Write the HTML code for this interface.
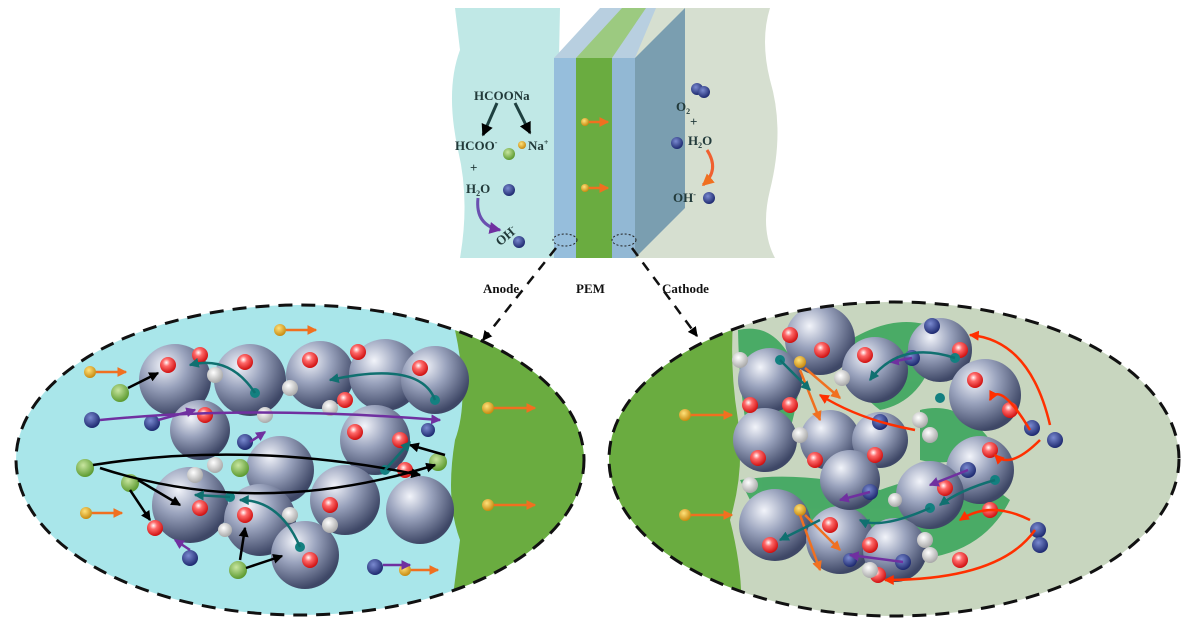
<!DOCTYPE html>
<html><head><meta charset="utf-8"><style>body{margin:0;background:#fff}svg{display:block}</style></head><body>
<svg width="1188" height="618" viewBox="0 0 1188 618" xmlns="http://www.w3.org/2000/svg" font-family="Liberation Serif, serif" font-weight="bold">
<defs>
<radialGradient id="sp" cx="35%" cy="30%" r="70%"><stop offset="0" stop-color="#f2f4fa"/><stop offset=".45" stop-color="#9aa3bd"/><stop offset="1" stop-color="#3e4766"/></radialGradient>
<radialGradient id="rd" cx="40%" cy="35%" r="65%"><stop offset="0" stop-color="#fff"/><stop offset=".35" stop-color="#ff6a6a"/><stop offset="1" stop-color="#d01010"/></radialGradient>
<radialGradient id="gy" cx="40%" cy="35%" r="65%"><stop offset="0" stop-color="#fff"/><stop offset="1" stop-color="#a9a9a9"/></radialGradient>
<radialGradient id="gn" cx="40%" cy="35%" r="65%"><stop offset="0" stop-color="#c8e6a0"/><stop offset="1" stop-color="#5c9a30"/></radialGradient>
<radialGradient id="yl" cx="40%" cy="35%" r="65%"><stop offset="0" stop-color="#ffe27a"/><stop offset="1" stop-color="#c88a10"/></radialGradient>
<radialGradient id="bl" cx="40%" cy="35%" r="65%"><stop offset="0" stop-color="#7a8ad0"/><stop offset="1" stop-color="#1e2a70"/></radialGradient>
<marker id="ao" markerWidth="4" markerHeight="4" refX="3.5" refY="2" orient="auto"><path d="M0,0L4,2L0,4z" fill="#f07020"/></marker>
<marker id="ak" markerWidth="4" markerHeight="4" refX="3.5" refY="2" orient="auto"><path d="M0,0L4,2L0,4z" fill="#000"/></marker>
<marker id="ap" markerWidth="4" markerHeight="4" refX="3.5" refY="2" orient="auto"><path d="M0,0L4,2L0,4z" fill="#7030a0"/></marker>
<marker id="at" markerWidth="4" markerHeight="4" refX="3.5" refY="2" orient="auto"><path d="M0,0L4,2L0,4z" fill="#107070"/></marker>
<marker id="ar" markerWidth="4" markerHeight="4" refX="3.5" refY="2" orient="auto"><path d="M0,0L4,2L0,4z" fill="#ff3000"/></marker>
<clipPath id="cl"><ellipse cx="300" cy="460" rx="284" ry="155"/></clipPath>
<clipPath id="cr"><ellipse cx="894" cy="459" rx="285" ry="157"/></clipPath>
</defs>
<path d="M455,8 L560,8 L555,258 L460,258 Q470,200 458,150 Q445,90 460,50 Z" fill="#c0e8e6"/>
<path d="M635,8 L770,8 Q760,40 770,80 Q785,130 770,190 Q760,230 775,258 L635,258 Z" fill="#d6dfd0"/>
<path d="M554,58 L600,8 L656,8 L635,58 Z" fill="#b8cfe0"/>
<path d="M576,58 L622,8 L646,8 L612,58 Z" fill="#9cca80"/>
<path d="M635,58 L685,8 L685,208 L635,258 Z" fill="#7a9eb0"/>
<rect x="554" y="58" width="22" height="200" fill="#96bedc"/>
<rect x="576" y="58" width="36" height="200" fill="#6aac40"/>
<rect x="612" y="58" width="23" height="200" fill="#92b8d4"/>
<ellipse cx="565" cy="240" rx="12" ry="6" fill="none" stroke="#222" stroke-dasharray="2,2"/>
<ellipse cx="624" cy="240" rx="12" ry="6" fill="none" stroke="#222" stroke-dasharray="2,2"/>
<g fill="#223a3a" font-size="13">
<text x="474" y="100">HCOONa</text><text x="455" y="150">HCOO<tspan font-size="8" dy="-5">-</tspan></text>
<text x="528" y="150">Na<tspan font-size="8" dy="-5">+</tspan></text>
<text x="470" y="172">+</text><text x="466" y="193">H<tspan font-size="8" dy="3">2</tspan><tspan dy="-3">O</tspan></text>
<text x="496" y="245" transform="rotate(-40 500 240)">OH<tspan font-size="8" dy="-5">-</tspan></text>
<text x="676" y="111">O<tspan font-size="8" dy="3">2</tspan></text><text x="690" y="126">+</text>
<text x="688" y="145">H<tspan font-size="8" dy="3">2</tspan><tspan dy="-3">O</tspan></text>
<text x="673" y="202">OH<tspan font-size="8" dy="-5">-</tspan></text>
</g>
<path d="M497,103 L483,135" stroke="#1e4040" stroke-width="3" marker-end="url(#ak)"/>
<path d="M515,103 L530,133" stroke="#1e4040" stroke-width="3" marker-end="url(#ak)"/>
<path d="M478,198 Q475,225 500,230" stroke="#6a50b0" stroke-width="3" fill="none" marker-end="url(#ap)"/>
<path d="M707,150 Q720,170 703,185" stroke="#f06030" stroke-width="3" fill="none" marker-end="url(#ao)"/>
<circle cx="509" cy="154" r="6" fill="url(#gn)"/><circle cx="522" cy="145" r="4" fill="url(#yl)"/>
<circle cx="509" cy="190" r="6" fill="url(#bl)"/><circle cx="519" cy="242" r="6" fill="url(#bl)"/>
<circle cx="697" cy="89" r="6" fill="url(#bl)"/><circle cx="704" cy="92" r="6" fill="url(#bl)"/>
<circle cx="677" cy="143" r="6" fill="url(#bl)"/><circle cx="709" cy="198" r="6" fill="url(#bl)"/>
<circle cx="585" cy="122" r="4" fill="url(#yl)"/><path d="M589,122H608" stroke="#f07020" stroke-width="2.5" marker-end="url(#ao)"/>
<circle cx="585" cy="188" r="4" fill="url(#yl)"/><path d="M589,188H608" stroke="#f07020" stroke-width="2.5" marker-end="url(#ao)"/>
<g font-family="Liberation Serif, serif" font-size="13" fill="#111"><text x="483" y="293">Anode</text><text x="576" y="293">PEM</text><text x="662" y="293">Cathode</text></g>
<path d="M556,248 L483,340" stroke="#111" stroke-width="2.5" stroke-dasharray="10,8" fill="none" marker-end="url(#ak)"/>
<path d="M632,248 L697,336" stroke="#111" stroke-width="2.5" stroke-dasharray="10,8" fill="none" marker-end="url(#ak)"/>
<g clip-path="url(#cl)">
<rect x="0" y="300" width="600" height="320" fill="#a9e6ea"/>
<path d="M455,330 Q470,400 455,440 Q445,500 460,540 Q455,580 450,620 L600,620 L600,300 L455,300Z" fill="#6aac40"/>
<g fill="url(#sp)">
<circle cx="175" cy="380" r="36"/><circle cx="250" cy="380" r="36"/><circle cx="320" cy="375" r="34"/><circle cx="385" cy="375" r="36"/><circle cx="435" cy="380" r="34"/>
<circle cx="200" cy="430" r="30"/><circle cx="375" cy="440" r="35"/><circle cx="280" cy="470" r="34"/><circle cx="345" cy="500" r="35"/>
<circle cx="190" cy="505" r="38"/><circle cx="260" cy="520" r="36"/><circle cx="420" cy="510" r="34"/><circle cx="305" cy="555" r="34"/>
</g>
<g fill="url(#rd)">
<circle cx="168" cy="365" r="8"/><circle cx="200" cy="355" r="8"/><circle cx="245" cy="362" r="8"/><circle cx="310" cy="360" r="8"/><circle cx="358" cy="352" r="8"/><circle cx="420" cy="368" r="8"/>
<circle cx="205" cy="415" r="8"/><circle cx="345" cy="400" r="8"/><circle cx="355" cy="432" r="8"/><circle cx="400" cy="440" r="8"/><circle cx="200" cy="508" r="8"/><circle cx="155" cy="528" r="8"/>
<circle cx="245" cy="515" r="8"/><circle cx="330" cy="505" r="8"/><circle cx="405" cy="470" r="8"/><circle cx="310" cy="560" r="8"/>
</g>
<g fill="url(#gy)">
<circle cx="215" cy="375" r="8"/><circle cx="290" cy="388" r="8"/><circle cx="265" cy="415" r="8"/><circle cx="330" cy="408" r="8"/><circle cx="215" cy="465" r="8"/><circle cx="195" cy="475" r="8"/><circle cx="290" cy="515" r="8"/><circle cx="330" cy="525" r="8"/><circle cx="225" cy="530" r="7"/>
</g>
<g fill="url(#gn)"><circle cx="120" cy="393" r="9"/><circle cx="85" cy="468" r="9"/><circle cx="130" cy="483" r="9"/><circle cx="240" cy="468" r="9"/><circle cx="438" cy="462" r="9"/><circle cx="238" cy="570" r="9"/></g>
<g fill="url(#yl)"><circle cx="280" cy="330" r="6"/><circle cx="90" cy="372" r="6"/><circle cx="86" cy="513" r="6"/><circle cx="405" cy="570" r="6"/><circle cx="488" cy="408" r="6"/><circle cx="488" cy="505" r="6"/></g>
<g fill="url(#bl)"><circle cx="92" cy="420" r="8"/><circle cx="152" cy="423" r="8"/><circle cx="245" cy="442" r="8"/><circle cx="190" cy="558" r="8"/><circle cx="375" cy="567" r="8"/><circle cx="428" cy="430" r="7"/></g>
<g fill="#138080"><circle cx="255" cy="393" r="5"/><circle cx="435" cy="400" r="5"/><circle cx="385" cy="470" r="5"/><circle cx="230" cy="497" r="5"/><circle cx="300" cy="547" r="5"/></g>
<g stroke="#f07020" stroke-width="2.5" marker-end="url(#ao)"><path d="M286,330H316"/><path d="M96,372H126"/><path d="M92,513H122"/><path d="M411,570H438"/><path d="M494,408H535"/><path d="M494,505H535"/></g>
<g stroke="#000" stroke-width="2.5" fill="none" marker-end="url(#ak)">
<path d="M128,388L158,373"/><path d="M93,465Q250,440 420,475"/><path d="M100,468Q260,520 435,465"/><path d="M138,480L180,505"/><path d="M130,490L150,520"/><path d="M246,568L282,556"/><path d="M240,560L245,528"/><path d="M445,455L410,445"/>
</g>
<g stroke="#7030a0" stroke-width="2.5" fill="none" marker-end="url(#ap)"><path d="M100,420Q250,405 440,420"/><path d="M158,420L195,410"/><path d="M190,550L175,540"/><path d="M383,565L410,565"/><path d="M250,442L265,432"/></g>
<g stroke="#107070" stroke-width="2.5" fill="none" marker-end="url(#at)"><path d="M255,393Q230,355 190,365"/><path d="M435,400Q420,360 330,380"/><path d="M230,497L195,495"/><path d="M300,547Q280,500 240,500"/><path d="M385,470L410,442"/></g>
</g>
<ellipse cx="300" cy="460" rx="284" ry="155" fill="none" stroke="#111" stroke-width="3" stroke-dasharray="14,9"/>
<g clip-path="url(#cr)">
<rect x="600" y="300" width="600" height="320" fill="#c8d6bf"/>
<path d="M600,300 L735,300 Q728,360 738,420 Q745,470 730,520 Q745,580 740,620 L600,620Z" fill="#6aac40"/>
<g fill="#2aa050" opacity=".8"><path d="M738,330 Q780,320 800,380 Q790,460 760,470 Q740,430 738,330Z"/><path d="M850,340 Q900,310 940,330 Q930,400 880,410 Q840,380 850,340Z"/><path d="M740,480 Q800,470 880,490 Q960,460 1010,500 Q980,560 900,560 Q820,540 760,520Z"/><path d="M920,410 Q960,400 990,440 Q960,470 920,460Z"/></g>
<g fill="url(#sp)">
<circle cx="820" cy="340" r="35"/><circle cx="875" cy="370" r="33"/><circle cx="940" cy="350" r="32"/><circle cx="985" cy="395" r="36"/>
<circle cx="770" cy="380" r="32"/><circle cx="765" cy="440" r="32"/><circle cx="830" cy="440" r="30"/><circle cx="880" cy="440" r="28"/>
<circle cx="980" cy="470" r="34"/><circle cx="930" cy="495" r="34"/><circle cx="775" cy="525" r="36"/><circle cx="840" cy="540" r="34"/><circle cx="895" cy="550" r="32"/><circle cx="850" cy="480" r="30"/>
</g>
<g fill="url(#rd)"><circle cx="822" cy="350" r="8"/><circle cx="790" cy="335" r="8"/><circle cx="865" cy="355" r="8"/><circle cx="960" cy="350" r="8"/><circle cx="975" cy="380" r="8"/><circle cx="1010" cy="410" r="8"/>
<circle cx="750" cy="405" r="8"/><circle cx="790" cy="405" r="8"/><circle cx="758" cy="458" r="8"/><circle cx="815" cy="460" r="8"/><circle cx="875" cy="455" r="8"/><circle cx="990" cy="450" r="8"/><circle cx="945" cy="488" r="8"/>
<circle cx="770" cy="545" r="8"/><circle cx="830" cy="525" r="8"/><circle cx="870" cy="545" r="8"/><circle cx="990" cy="510" r="8"/><circle cx="960" cy="560" r="8"/><circle cx="878" cy="575" r="8"/></g>
<g fill="url(#gy)"><circle cx="740" cy="360" r="8"/><circle cx="842" cy="378" r="8"/><circle cx="800" cy="435" r="8"/><circle cx="920" cy="420" r="8"/><circle cx="930" cy="435" r="8"/><circle cx="750" cy="485" r="8"/><circle cx="925" cy="540" r="8"/><circle cx="930" cy="555" r="8"/><circle cx="870" cy="570" r="8"/><circle cx="895" cy="500" r="7"/></g>
<g fill="url(#yl)"><circle cx="685" cy="415" r="6"/><circle cx="685" cy="515" r="6"/><circle cx="800" cy="362" r="6"/><circle cx="800" cy="510" r="6"/></g>
<g fill="url(#bl)"><circle cx="932" cy="326" r="8"/><circle cx="912" cy="358" r="8"/><circle cx="880" cy="422" r="8"/><circle cx="1032" cy="428" r="8"/><circle cx="1055" cy="440" r="8"/><circle cx="968" cy="470" r="8"/><circle cx="870" cy="492" r="8"/><circle cx="903" cy="562" r="8"/><circle cx="1038" cy="530" r="8"/><circle cx="1040" cy="545" r="8"/><circle cx="850" cy="560" r="7"/></g>
<g fill="#138080"><circle cx="955" cy="358" r="5"/><circle cx="940" cy="398" r="5"/><circle cx="995" cy="480" r="5"/><circle cx="930" cy="508" r="5"/><circle cx="780" cy="360" r="5"/></g>
<g stroke="#f07020" stroke-width="2.5" marker-end="url(#ao)" fill="none"><path d="M691,415H732"/><path d="M691,515H732"/><path d="M805,368L840,398"/><path d="M800,370L820,420"/><path d="M805,515L840,550"/><path d="M800,515L820,570"/></g>
<g stroke="#ff3000" stroke-width="2.5" fill="none" marker-end="url(#ar)"><path d="M1050,425Q1030,340 970,335"/><path d="M1030,430Q1000,380 990,400"/><path d="M1040,440Q1010,470 995,455"/><path d="M1035,530Q1000,580 885,580"/><path d="M1030,520Q990,500 960,520"/><path d="M915,430Q860,420 820,395"/></g>
<g stroke="#7030a0" stroke-width="2.5" fill="none" marker-end="url(#ap)"><path d="M968,470L930,485"/><path d="M870,492L840,500"/><path d="M903,562L850,555"/><path d="M912,358L890,362"/></g>
<g stroke="#107070" stroke-width="2.5" fill="none" marker-end="url(#at)"><path d="M955,358Q900,340 870,380"/><path d="M995,480Q960,490 940,505"/><path d="M930,508Q880,530 860,520"/><path d="M780,360Q800,380 810,390"/><path d="M820,520L780,540"/></g>
</g>
<ellipse cx="894" cy="459" rx="285" ry="157" fill="none" stroke="#111" stroke-width="3" stroke-dasharray="14,9"/>
</svg>
</body></html>
